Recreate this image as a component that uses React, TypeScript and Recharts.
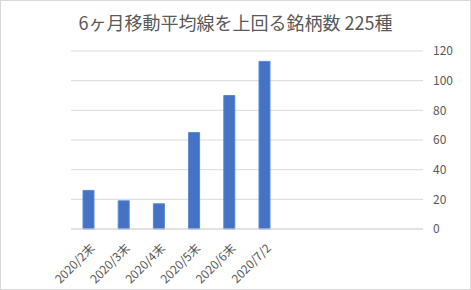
import { BarChart, Bar, XAxis, YAxis, CartesianGrid } from 'recharts'

const categories = [
	'2020/2末',
	'2020/3末',
	'2020/4末',
	'2020/5末',
	'2020/6末',
	'2020/7/2',
	'',
	'',
	'',
	'',
]
const counts = [26, 19, 17, 65, 90, 113, null, null, null, null]
const yTicks = [0, 20, 40, 60, 80, 100, 120]

const TITLE = '6ヶ月移動平均線を上回る銘柄数 225種'
const FONT = '"Noto Sans CJK JP", "Noto Sans", sans-serif'
const TEXT = '#595959'
const GRID = '#d9d9d9'

const data = categories.map((name, i) => ({ name, key: `c${i}`, value: counts[i] }))

const XTick = (props: any) => {
	const { x, y, index } = props
	const label = categories[index]
	if (!label) return null
	return (
		<g transform={`translate(${x + 7},${y + 12})`}>
			<text
				x={0}
				y={0}
				textAnchor="end"
				transform="rotate(-45)"
				fill={TEXT}
				fontSize={12}
				fontFamily={FONT}>
				{label}
			</text>
		</g>
	)
}

export default function App() {
	return (
		<div
			style={{
				position: 'absolute',
				left: 0,
				top: 0,
				width: 471,
				height: 290,
				background: '#fff',
			}}>
			<div
				style={{
					position: 'absolute',
					left: 0,
					top: 9,
					width: 471,
					textAlign: 'center',
					fontFamily: FONT,
					fontSize: 18,
					color: TEXT,
					whiteSpace: 'nowrap',
				}}>
				{TITLE}
			</div>
			<BarChart
				width={471}
				height={290}
				data={data}
				margin={{ top: 51, right: 0, left: 71, bottom: 0 }}>
				<CartesianGrid vertical={false} stroke={GRID} />
				<XAxis
					dataKey="key"
					height={61}
					axisLine={{ stroke: GRID }}
					tickLine={false}
					interval={0}
					tick={<XTick />}
				/>
				<YAxis
					orientation="right"
					width={48}
					domain={[0, 120]}
					ticks={yTicks}
					axisLine={false}
					tickLine={false}
					tickSize={0}
					tickMargin={10}
					tick={{ fill: TEXT, fontSize: 12, fontFamily: FONT, textAnchor: 'start' }}
				/>
				<Bar
					dataKey="value"
					fill="#4472C4"
					stroke="#5b86d2"
					strokeWidth={1}
					barSize={11}
					isAnimationActive={false}
				/>
			</BarChart>
			<div
				style={{
					position: 'absolute',
					left: 0,
					top: 0,
					width: 471,
					height: 290,
					boxSizing: 'border-box',
					border: `1px solid ${GRID}`,
					pointerEvents: 'none',
				}}
			/>
		</div>
	)
}
